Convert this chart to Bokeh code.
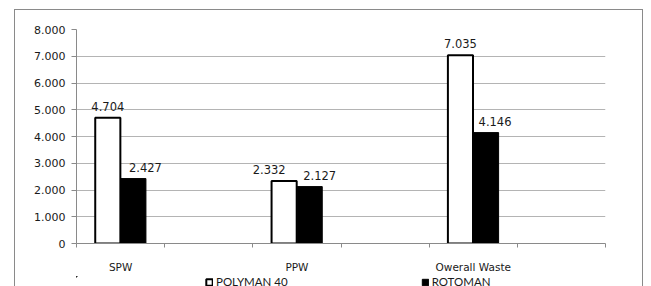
from bokeh.plotting import figure
from bokeh.layouts import column
from bokeh.models import (FixedTicker, Legend, LegendItem, ColumnDataSource, Range1d)
from bokeh.core.properties import value
from bokeh.embed import file_html
from bokeh.resources import INLINE

categories = ["SPW", "PPW", "Owerall Waste"]
polyman = [4704, 2332, 7035]
rotoman = [2427, 2127, 4146]
polyman_labels = ["4.704", "2.332", "7.035"]
rotoman_labels = ["2.427", "2.127", "4.146"]
y_ticks = [0, 1000, 2000, 3000, 4000, 5000, 6000, 7000, 8000]
y_tick_labels = ["0", "1.000", "2.000", "3.000", "4.000", "5.000", "6.000", "7.000", "8.000"]
series_names = ["POLYMAN 40", "ROTOMAN"]

# layout: each category occupies the first of two axis slots
slot_centers = [2 * i + 0.5 for i in range(len(categories))]
bar_w = 0.285
half = 0.145
polyman_dx = [0, -15, 0]
rotoman_dx = [12, 10, 9]

src_p = ColumnDataSource(dict(x=[c - half for c in slot_centers], top=polyman,
                              lab=polyman_labels, dx=polyman_dx))
src_r = ColumnDataSource(dict(x=[c + half for c in slot_centers], top=rotoman,
                              lab=rotoman_labels, dx=rotoman_dx))

p = figure(width=627, height=265, output_backend="svg", toolbar_location=None,
           x_range=Range1d(0, 2 * len(categories)), y_range=Range1d(0, 8000))
p.min_border_left = 61
p.min_border_right = 37
p.min_border_top = 19
p.min_border_bottom = 30
p.outline_line_color = None
p.background_fill_color = "white"
p.border_fill_color = "white"

style_p = dict(fill_color="white", line_color="black", line_width=2)
style_r = dict(fill_color="black", line_color="black", line_width=1)

p.vbar(x="x", top="top", width=bar_w, bottom=0, source=src_p, **style_p)
p.vbar(x="x", top="top", width=bar_w, bottom=0, source=src_r, **style_r)

for src in (src_p, src_r):
    p.text(x="x", y="top", text="lab", x_offset="dx", y_offset=-7, source=src,
           text_align="center", text_baseline="bottom",
           text_font=value("DejaVu Sans"), text_font_size="11.5px", text_color="#1a1a1a")

# y axis
p.yaxis.ticker = FixedTicker(ticks=y_ticks, minor_ticks=[])
p.yaxis.major_label_overrides = {t: s for t, s in zip(y_ticks, y_tick_labels)}
p.yaxis.major_label_text_font = "DejaVu Sans"
p.yaxis.major_label_text_font_size = "11px"
p.yaxis.major_label_text_color = "#1a1a1a"
p.yaxis.axis_line_color = "#8a8a8a"
p.yaxis.major_tick_line_color = "#8a8a8a"
p.yaxis.major_tick_out = 5
p.yaxis.major_tick_in = 0
p.yaxis.major_label_standoff = 6

# x axis
p.xaxis.ticker = FixedTicker(ticks=slot_centers,
                             minor_ticks=list(range(2 * len(categories) + 1)))
p.xaxis.major_label_overrides = {c: n for c, n in zip(slot_centers, categories)}
p.xaxis.major_label_text_font = "DejaVu Sans"
p.xaxis.major_label_text_font_size = "10.5px"
p.xaxis.major_label_text_color = "#1a1a1a"
p.xaxis.axis_line_color = "#8a8a8a"
p.xaxis.major_tick_out = 0
p.xaxis.major_tick_in = 0
p.xaxis.minor_tick_out = 4
p.xaxis.minor_tick_in = 0
p.xaxis.minor_tick_line_color = "#8a8a8a"
p.xaxis.major_label_standoff = 13

p.xgrid.grid_line_color = None
p.ygrid.grid_line_color = "#b4b4b4"
p.ygrid.ticker = FixedTicker(ticks=y_ticks)

# legend strip under the chart (same series renderers, ranges keep them out of view)
lg = figure(width=627, height=11, output_backend="svg", toolbar_location=None,
            x_axis_type=None, y_axis_type=None, x_range=Range1d(1000, 1001),
            y_range=Range1d(-200000, -100000), min_border=0)
lg.outline_line_color = None
lg.xgrid.visible = False
lg.ygrid.visible = False
lg.border_fill_color = "white"
lg.background_fill_color = "white"
lp = lg.vbar(x="x", top="top", width=bar_w, bottom=0, source=src_p, **style_p)
lr = lg.vbar(x="x", top="top", width=bar_w, bottom=0, source=src_r, **style_r)
legend = Legend(items=[LegendItem(label=series_names[0], renderers=[lp]),
                       LegendItem(label=series_names[1], renderers=[lr])],
                orientation="horizontal", location=(129, -2),
                glyph_width=8, glyph_height=8, label_height=10,
                label_standoff=3, spacing=133, padding=0, margin=0,
                border_line_color=None, background_fill_alpha=0,
                label_text_font="Lato", label_text_font_size="11.5px",
                label_text_color="#1a1a1a")
lg.add_layout(legend, "center")

layout = column(p, lg, spacing=0)
layout.margin = (9, 0, 0, 14)
layout.styles = {"border-top": "1px solid #8a8a8a",
                 "border-left": "1px solid #8a8a8a",
                 "border-right": "1px solid #8a8a8a"}

open("out.html", "w").write(file_html(layout, INLINE))
